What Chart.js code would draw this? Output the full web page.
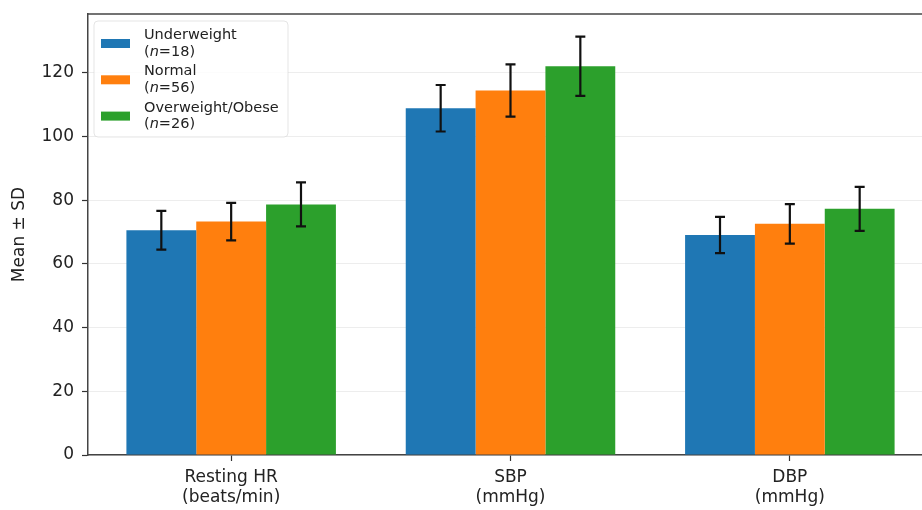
<!DOCTYPE html>
<html><head><meta charset="utf-8">
<script src="https://cdn.jsdelivr.net/npm/chart.js@4/dist/chart.umd.min.js"></script>
<style>
html,body{margin:0;padding:0;background:#fff;overflow:hidden;width:922px;height:510px}
#wrap{width:940px;height:510px}
</style></head>
<body><div id="wrap"><canvas id="c" width="940" height="510" style="width:940px;height:510px"></canvas></div>
<script>
// ---- data ----
const categories = [["Resting HR", "(beats/min)"], ["SBP", "(mmHg)"], ["DBP", "(mmHg)"]];
const groupLabels = ["Underweight", "Normal", "Overweight/Obese"];
const groupN = [18, 56, 26];
const underweightMean = [70.6, 108.9, 69.1];
const underweightSD   = [6.1, 7.3, 5.7];
const normalMean      = [73.3, 114.5, 72.6];
const normalSD        = [5.9, 8.2, 6.2];
const overweightMean  = [78.7, 122.1, 77.3];
const overweightSD    = [6.9, 9.3, 6.9];
const yTicks = [0, 20, 40, 60, 80, 100, 120];

const colors = ["#1f77b4", "#ff7f0e", "#2ca02c"];
const means = [underweightMean, normalMean, overweightMean];
const sds = [underweightSD, normalSD, overweightSD];
const FONT = "'DejaVu Sans', sans-serif";

const datasets = groupLabels.map((g, k) => ({
  label: g,
  n: groupN[k],
  sd: sds[k],
  data: means[k].map((v, i) => ({x: i, y: v})),
  backgroundColor: colors[k],
  borderWidth: 0,
  categoryPercentage: 0.75,
  barPercentage: 1.0
}));

const errorBars = {
  id: 'errorBars',
  afterDatasetsDraw(chart) {
    const ctx = chart.ctx, ys = chart.scales.y;
    ctx.save();
    ctx.strokeStyle = '#111';
    ctx.lineWidth = 2.2;
    chart.data.datasets.forEach((ds, di) => {
      const meta = chart.getDatasetMeta(di);
      meta.data.forEach((bar, i) => {
        const m = ds.data[i].y, s = ds.sd[i];
        const x = bar.x;
        const yt = ys.getPixelForValue(m + s), yb = ys.getPixelForValue(m - s);
        ctx.beginPath();
        ctx.moveTo(x, yt); ctx.lineTo(x, yb);
        ctx.moveTo(x - 5, yt); ctx.lineTo(x + 5, yt);
        ctx.moveTo(x - 5, yb); ctx.lineTo(x + 5, yb);
        ctx.stroke();
      });
    });
    ctx.restore();
  }
};

const frameAndLegend = {
  id: 'frameAndLegend',
  afterDraw(chart) {
    const ctx = chart.ctx, a = chart.chartArea;
    ctx.save();
    // top spine
    ctx.strokeStyle = '#444';
    ctx.lineWidth = 1.5;
    ctx.beginPath(); ctx.moveTo(a.left, a.top); ctx.lineTo(a.right, a.top); ctx.stroke();
    // legend frame
    const lx = 94, ly = 21, lw = 194, lh = 116, r = 4;
    ctx.beginPath();
    ctx.moveTo(lx + r, ly); ctx.lineTo(lx + lw - r, ly); ctx.arcTo(lx + lw, ly, lx + lw, ly + r, r);
    ctx.lineTo(lx + lw, ly + lh - r); ctx.arcTo(lx + lw, ly + lh, lx + lw - r, ly + lh, r);
    ctx.lineTo(lx + r, ly + lh); ctx.arcTo(lx, ly + lh, lx, ly + lh - r, r);
    ctx.lineTo(lx, ly + r); ctx.arcTo(lx, ly, lx + r, ly, r);
    ctx.closePath();
    ctx.fillStyle = 'rgba(255,255,255,0.8)';
    ctx.fill();
    ctx.strokeStyle = 'rgba(204,204,204,0.5)';
    ctx.lineWidth = 1;
    ctx.stroke();
    // entries
    const fs = 14.5;
    ctx.textBaseline = 'middle';
    ctx.textAlign = 'left';
    chart.data.datasets.forEach((ds, k) => {
      const cy = 43.5 + k * 36.3;
      ctx.fillStyle = ds.backgroundColor;
      ctx.fillRect(101, cy - 4.5, 29, 9);
      ctx.fillStyle = '#222';
      ctx.font = fs + "px " + FONT;
      ctx.fillText(ds.label, 144, cy - 8.3);
      let x = 144;
      const y2 = cy + 8.3;
      ctx.fillText("(", x, y2); x += ctx.measureText("(").width;
      ctx.font = "italic " + fs + "px " + FONT;
      ctx.fillText("n", x, y2); x += ctx.measureText("n").width;
      ctx.font = fs + "px " + FONT;
      ctx.fillText("=" + ds.n + ")", x, y2);
    });
    ctx.restore();
  }
};

new Chart(document.getElementById('c'), {
  type: 'bar',
  data: { datasets },
  options: {
    responsive: false,
    animation: false,
    devicePixelRatio: 1,
    layout: { padding: { top: 14, right: 7, left: 0, bottom: 0 } },
    plugins: { legend: { display: false }, tooltip: { enabled: false } },
    scales: {
      x: {
        type: 'linear',
        min: -0.5125, max: 2.5125,
        offset: false,
        afterFit: s => { s.height = 55; s.paddingLeft = 0; s.paddingRight = 0; },
        ticks: {
          stepSize: 1,
          includeBounds: false,
          autoSkip: false,
          maxRotation: 0,
          padding: 6,
          color: '#222',
          font: { family: FONT, size: 17, lineHeight: 1.2 },
          callback: v => Number.isInteger(v) && categories[v] ? categories[v] : ''
        },
        grid: { offset: false, drawOnChartArea: false, drawTicks: true, tickLength: 6, tickColor: '#333', tickWidth: 1.2 },
        border: { display: true, color: '#444', width: 1.5 }
      },
      y: {
        min: 0, max: 138.5,
        afterFit: s => { s.width = 88; s.paddingTop = 0; s.paddingBottom = 0; },
        afterBuildTicks: s => { s.ticks = yTicks.map(v => ({ value: v })); },
        ticks: {
          padding: 8,
          color: '#222',
          font: { family: FONT, size: 17 }
        },
        grid: { color: 'rgba(0,0,0,0.07)', lineWidth: 1, drawTicks: true, tickLength: 6, tickColor: '#333', tickWidth: 1.2 },
        border: { display: true, color: '#444', width: 1.5 },
        title: { display: true, text: 'Mean ± SD', color: '#222', font: { family: FONT, size: 17 }, padding: { top: 9, bottom: 0 } }
      }
    }
  },
  plugins: [errorBars, frameAndLegend]
});
</script></body></html>
